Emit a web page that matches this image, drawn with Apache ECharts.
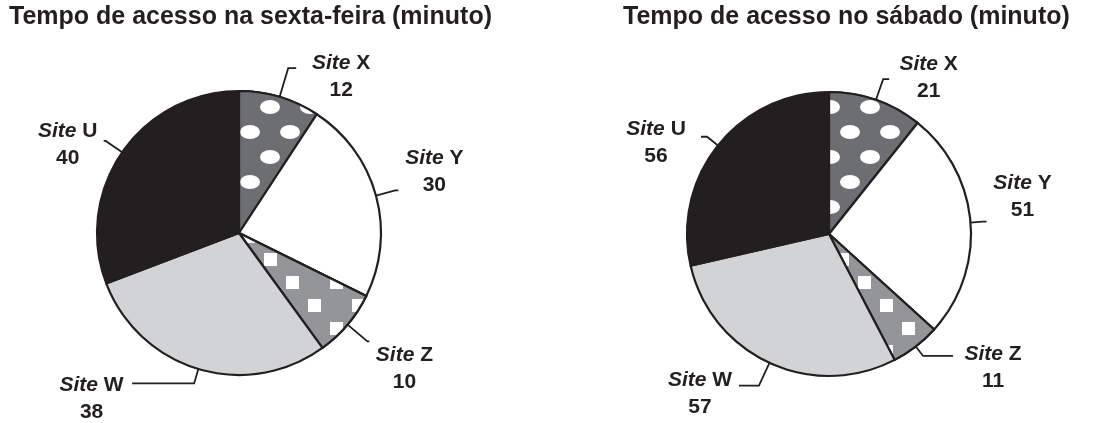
<!DOCTYPE html>
<html>
<head>
<meta charset="utf-8">
<script src="https://cdn.jsdelivr.net/npm/echarts@6/dist/echarts.min.js"></script>
<style>
  html, body { margin: 0; padding: 0; background: #fff; }
  #chart { width: 1102px; height: 423px; }
</style>
</head>
<body>
<div id="chart"></div>
<script>
// ---- data ----
const categories = ['X', 'Y', 'Z', 'W', 'U'];
const fridayValues = [12, 30, 10, 38, 40];
const saturdayValues = [21, 51, 11, 57, 56];
const titleTexts = ['Tempo de acesso na sexta-feira (minuto)', 'Tempo de acesso no sábado (minuto)'];
const siteWord = 'Site';

// ---- styles (kept apart from data) ----
const INK = '#231f20';
const sliceStyles = {
  X: { color: '#6d6e71', decal: { symbol: 'path://M0,5a5,5 0 1,0 10,0a5,5 0 1,0 -10,0z', symbolKeepAspect: false, color: '#ffffff', backgroundColor: '#6d6e71', symbolSize: 1, dashArrayX: [[20, 20], [0, 20, 20, 0]], dashArrayY: [14, 11], rotation: 0 } },
  Y: { color: '#ffffff' },
  Z: { color: '#939598', decal: { symbol: 'rect', symbolKeepAspect: false, color: '#ffffff', backgroundColor: '#939598', symbolSize: 1, dashArrayX: [[13, 31], [0, 22, 13, 9]], dashArrayY: [13, 10], rotation: 0 } },
  W: { color: '#d1d3d4' },
  U: { color: INK }
};
// per-label leader line / label box tuning: [length, length2, labelWidth, padding]
const leftLabelTuning = {
  X: [30, 8, 80, [17, 0, 0, 0]],
  Y: [20, 3, 62, [0, 0, 38, 0]],
  Z: [26, 2, 60, [54, 0, 0, 0]],
  W: [15, 62, 71, [30, 0, 0, 0]],
  U: [20, 2, 62, [8, 0, 0, 0]]
};
const rightLabelTuning = {
  X: [22, 6, 69, [0, 0, 3, 0]],
  Y: [12, 4, 62, [0, 0, 50, 0]],
  Z: [12, 30, 70, [24, 0, 0, 0]],
  W: [25, 20, 68, [17, 0, 0, 0]],
  U: [14, 6, 80, [11, 0, 0, 0]]
};

const FONT = '"Liberation Sans", Arial, Helvetica, sans-serif';

function buildData(values, tuning) {
  return categories.map((c, i) => {
    const st = sliceStyles[c];
    const t = tuning[c];
    const item = {
      name: c,
      value: values[i],
      itemStyle: { color: st.color },
      label: { width: t[2], padding: t[3] },
      labelLine: { length: t[0], length2: t[1] }
    };
    if (st.decal) item.itemStyle.decal = st.decal;
    return item;
  });
}

function pieSeries(values, tuning, center) {
  return {
    type: 'pie',
    center: center,
    radius: 142,
    startAngle: 90,
    clockwise: true,
    avoidLabelOverlap: false,
    silent: true,
    animation: false,
    itemStyle: { borderColor: INK, borderWidth: 2.2 },
    label: {
      show: true,
      position: 'outside',
      distanceToLabelLine: 5,
      overflow: 'none',
      formatter: p => '{i|' + siteWord + '}{b| ' + p.name + '}\n{n|' + p.value + '}',
      rich: {
        i: { fontFamily: FONT, fontSize: 21, fontWeight: 'bold', fontStyle: 'italic', color: INK, align: 'center', lineHeight: 27 },
        b: { fontFamily: FONT, fontSize: 21, fontWeight: 'bold', color: INK, align: 'center', lineHeight: 27 },
        n: { fontFamily: FONT, fontSize: 21, fontWeight: 'bold', color: INK, align: 'center', lineHeight: 27 }
      }
    },
    labelLine: {
      show: true,
      smooth: false,
      lineStyle: { color: INK, width: 1.8 }
    },
    emphasis: { disabled: true },
    data: buildData(values, tuning)
  };
}

const chart = echarts.init(document.getElementById('chart'), null, { renderer: 'canvas' });
chart.setOption({
  backgroundColor: '#ffffff',
  animation: false,
  title: [
    { text: titleTexts[0], left: 4, top: 0, textStyle: { fontFamily: FONT, fontSize: 25, fontWeight: 'bold', color: INK } },
    { text: titleTexts[1], left: 618, top: 0, textStyle: { fontFamily: FONT, fontSize: 25, fontWeight: 'bold', color: INK } }
  ],
  series: [
    pieSeries(fridayValues, leftLabelTuning, [239, 233]),
    pieSeries(saturdayValues, rightLabelTuning, [829, 234])
  ]
});
</script>
</body>
</html>
